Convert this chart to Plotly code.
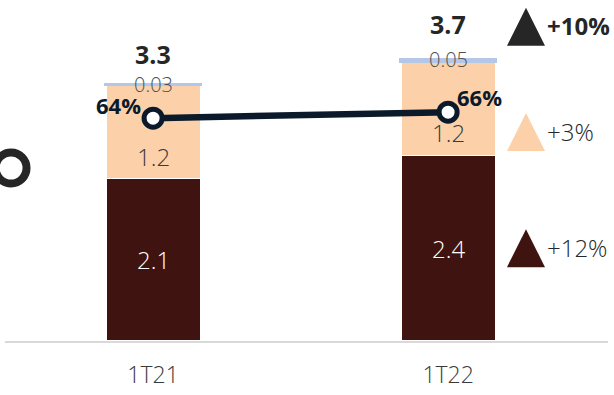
import plotly.graph_objects as go

# Quarterly figures
categories = ["1T21", "1T22"]
base_values = [2.1, 2.4]
middle_values = [1.2, 1.2]
top_values = [0.03, 0.05]
total_labels = ["3.3", "3.7"]
ratio_values = [64, 66]
growth_labels = ["+12%", "+3%", "+10%"]

DARK = "#3f1410"
PEACH = "#fcd1a9"
BLUE = "#b4c7e7"
NAVY = "#0b1a2a"
INK = "#262626"
FONT = "Open Sans"

x_pos = list(range(len(categories)))
totals = [b + m + t for b, m, t in zip(base_values, middle_values, top_values)]

fig = go.Figure()

fig.add_trace(go.Bar(x=x_pos, y=base_values, width=0.32, marker=dict(color=DARK, line=dict(color="white", width=1.5)),
                     hoverinfo="skip"))
fig.add_trace(go.Bar(x=x_pos, y=middle_values, width=0.32, marker=dict(color=PEACH, line=dict(color="white", width=1.5)),
                     hoverinfo="skip"))
fig.add_trace(go.Bar(x=x_pos, y=top_values, width=0.33, marker=dict(color=BLUE, line=dict(color=BLUE, width=1)),
                     hoverinfo="skip"))

# ratio line on the secondary axis
fig.add_trace(go.Scatter(x=x_pos, y=ratio_values, yaxis="y2", mode="lines+markers",
                         line=dict(color=NAVY, width=6.5),
                         marker=dict(size=18, color="white", line=dict(color=NAVY, width=5)),
                         hoverinfo="skip"))

ann = []
for i in x_pos:
    ann.append(dict(x=i, y=base_values[i] / 2, text=f"{base_values[i]:.1f}", showarrow=False,
                    font=dict(family=FONT, size=24, color="white", weight=300)))
    ann.append(dict(x=i, y=base_values[i] + 0.29, text=f"{middle_values[i]:.1f}", showarrow=False,
                    font=dict(family=FONT, size=24, color="#3a3a3a", weight=300)))
    ann.append(dict(x=i, y=totals[i], yshift=-1, text=f"{top_values[i]:.2f}", showarrow=False,
                    font=dict(family=FONT, size=20, color="#505050", weight=300)))
    ann.append(dict(x=i, y=totals[i], yshift=[29, 35][i], text=f"<b>{total_labels[i]}</b>", showarrow=False,
                    font=dict(family=FONT, size=25, color=INK)))

ann.append(dict(x=0, y=ratio_values[0], yref="y2", text="<b>64%</b>", showarrow=False,
                xanchor="right", xshift=-10, yshift=13, font=dict(family=FONT, size=22, color=NAVY)))
ann.append(dict(x=1, y=ratio_values[1], yref="y2", text="<b>66%</b>", showarrow=False,
                xanchor="left", xshift=7, yshift=15, font=dict(family=FONT, size=22, color=NAVY)))

# growth indicators at the right: triangle + label
growth_colors = [DARK, PEACH, INK]
growth_y = [base_values[1] / 2, base_values[1] + 0.30, totals[1] + 0.41]
growth_x = 1.264
shapes = []
for lab, yy, col in zip(growth_labels, growth_y, growth_colors):
    bold = lab == growth_labels[-1]
    shapes.append(dict(type="path", xref="x", yref="y", xsizemode="pixel", ysizemode="pixel",
                       xanchor=growth_x, yanchor=yy, path="M-19,-19 L19,-19 L0,19 Z",
                       fillcolor=col, line=dict(width=0)))
    ann.append(dict(x=growth_x, y=yy, text=f"<b>{lab}</b>" if bold else lab, showarrow=False,
                    xanchor="left", xshift=19, yshift=1,
                    font=dict(family=FONT, size=24, color=INK, weight=700 if bold else 300)))

# partial ring at the left edge
shapes.append(dict(type="circle", xref="paper", yref="paper", xsizemode="pixel", ysizemode="pixel",
                   xanchor=0.01, yanchor=(341 - 168) / 341, x0=-15.5, x1=15.5, y0=-15.5, y1=15.5,
                   line=dict(color=INK, width=8), fillcolor="rgba(0,0,0,0)"))

fig.update_layout(
    barmode="stack",
    width=614, height=395,
    margin=dict(l=5, r=6, t=0, b=54),
    paper_bgcolor="white", plot_bgcolor="white",
    showlegend=False,
    annotations=ann,
    shapes=shapes,
    xaxis=dict(range=[-0.502, 1.542], tickvals=x_pos, ticktext=categories,
               showgrid=False, zeroline=False, showline=True, linecolor="#d9d9d9", linewidth=2,
               ticks="", ticklabelstandoff=12,
               tickfont=dict(family=FONT, size=23, color="#3a3a3a", weight=300)),
    yaxis=dict(range=[0, 4.406], visible=False, showgrid=False),
    yaxis2=dict(range=[-10.3, 103.4], overlaying="y", visible=False, showgrid=False),
)

fig.write_html("out.html")
